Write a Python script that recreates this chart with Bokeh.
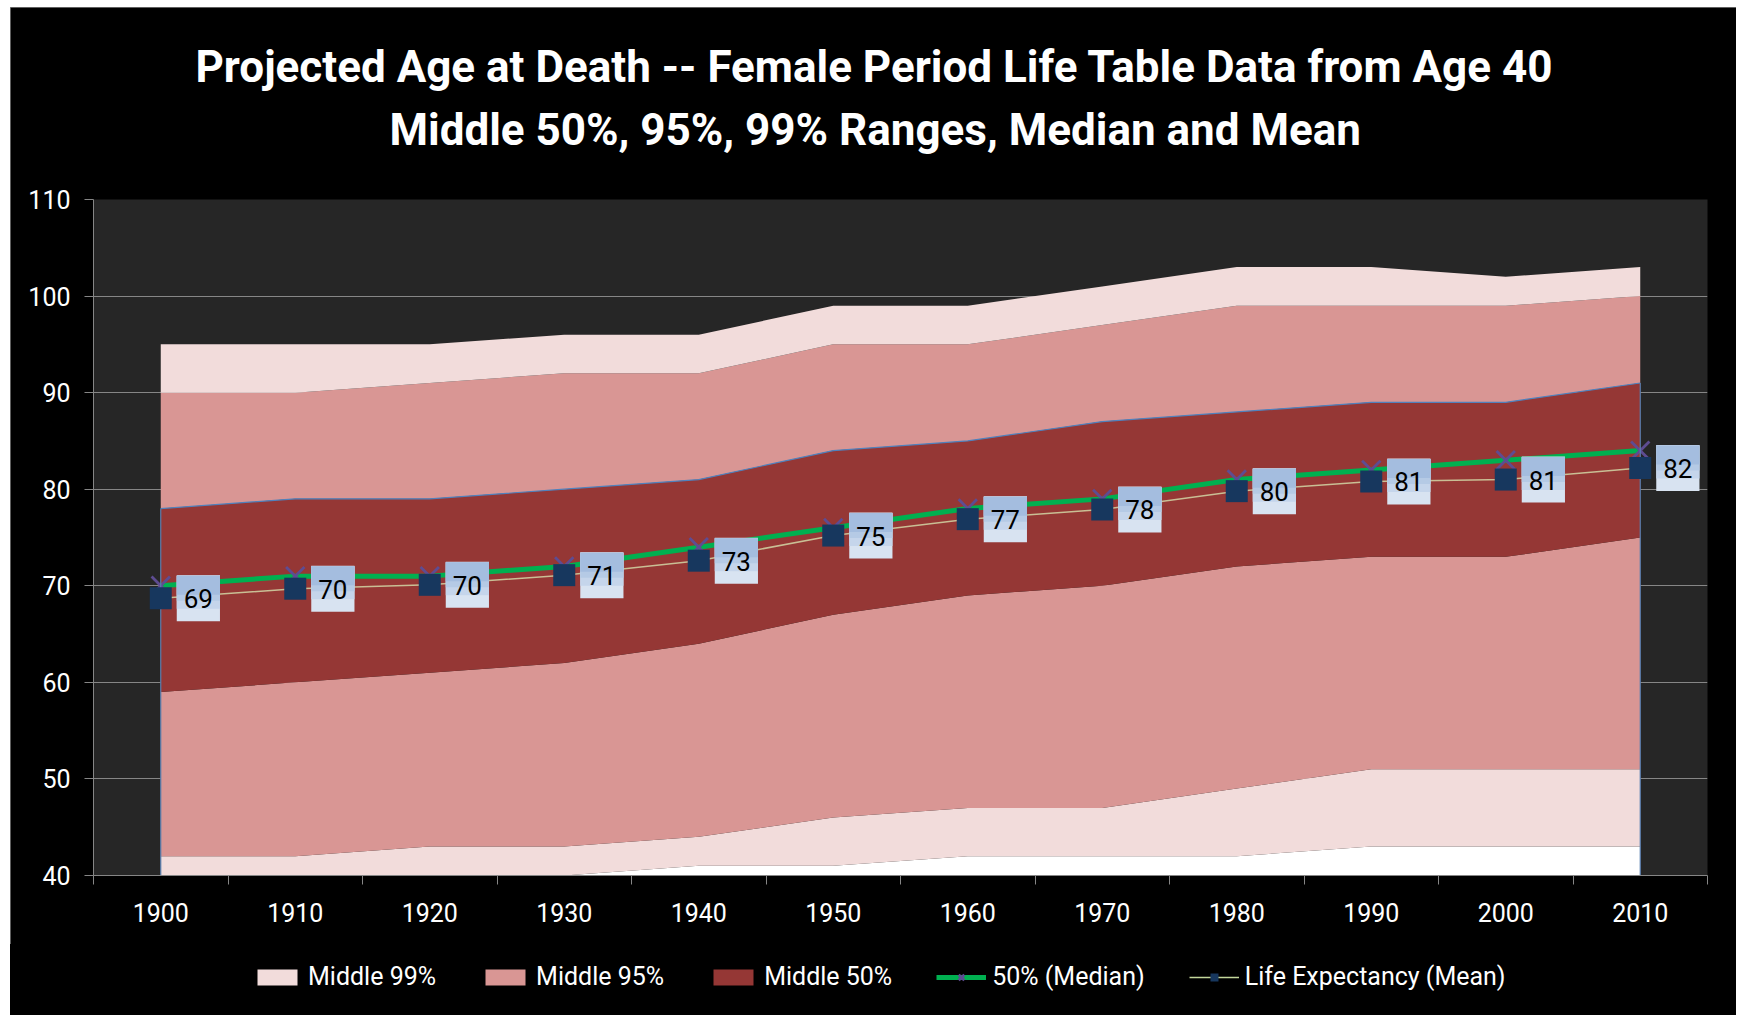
from bokeh.plotting import figure
from bokeh.layouts import column
from bokeh.models import Range1d, LinearAxis, FixedTicker, Title, Legend, LegendItem, ColumnDataSource
from bokeh.core.properties import value
from bokeh.embed import file_html
from bokeh.resources import INLINE

# ---- data ----
years = [1900, 1910, 1920, 1930, 1940, 1950, 1960, 1970, 1980, 1990, 2000, 2010]
pct_0_5 = [39, 39, 39, 40, 41, 41, 42, 42, 42, 43, 43, 43]
pct_2_5 = [42, 42, 43, 43, 44, 46, 47, 47, 49, 51, 51, 51]
pct_25 = [59, 60, 61, 62, 64, 67, 69, 70, 72, 73, 73, 75]
pct_75 = [78, 79, 79, 80, 81, 84, 85, 87, 88, 89, 89, 91]
pct_97_5 = [90, 90, 91, 92, 92, 95, 95, 97, 99, 99, 99, 100]
pct_99_5 = [95, 95, 95, 96, 96, 99, 99, 101, 103, 103, 102, 103]
median = [70, 71, 71, 72, 74, 76, 78, 79, 81, 82, 83, 84]
mean = [68.7, 69.7, 70.1, 71.1, 72.6, 75.2, 76.9, 77.9, 79.8, 80.8, 81.0, 82.2]
mean_labels = [f"{m:.0f}" for m in mean]
y_ticks = [40, 50, 60, 70, 80, 90, 100, 110]
title_lines = ["Projected Age at Death -- Female Period Life Table Data from Age 40",
               "Middle 50%, 95%, 99% Ranges, Median and Mean"]
legend_labels = ["Middle 99%", "Middle 95%", "Middle 50%", "50% (Median)", "Life Expectancy (Mean)"]

FONT = "Roboto"
C99 = "#F2DCDB"
C95 = "#D99694"
C50 = "#953735"
C_MED = "#00B050"
C_X = "#5E4C92"
C_MEAN_LINE = "#C9BF95"
C_MEAN_LEG = "#C3D69B"
C_SQ = "#17375E"

step = years[1] - years[0]
bounds = [y - step / 2 for y in years] + [years[-1] + step / 2]

src = ColumnDataSource(dict(x=years, p005=pct_0_5, p025=pct_2_5, p25=pct_25, p75=pct_75,
                            p975=pct_97_5, p995=pct_99_5, med=median, mean=mean,
                            lab=mean_labels, base=[0] * len(years)))

W = 1726
p = figure(width=W, height=937, output_backend="svg", toolbar_location=None,
           x_range=Range1d(bounds[0], bounds[-1]), y_range=Range1d(y_ticks[0], y_ticks[-1]),
           x_axis_location=None, y_axis_location=None, title=None,
           min_border_left=83, min_border_right=29, min_border_top=192, min_border_bottom=69)
p.background_fill_color = "#262626"
p.border_fill_color = "black"
p.outline_line_color = None

# axes
yax = LinearAxis(ticker=FixedTicker(ticks=y_ticks))
yax.axis_line_color = "#868686"
yax.major_tick_line_color = "#868686"
yax.major_tick_out = 9
yax.major_tick_in = 0
yax.minor_tick_line_color = None
yax.major_label_text_color = "white"
yax.major_label_text_font = FONT
yax.major_label_text_font_size = "25px"
yax.major_label_standoff = 14
p.add_layout(yax, "left")

xax = LinearAxis(ticker=FixedTicker(ticks=years, minor_ticks=bounds))
xax.axis_line_color = "#868686"
xax.major_tick_line_color = None
xax.major_tick_out = 9
xax.minor_tick_line_color = "#868686"
xax.minor_tick_out = 9
xax.minor_tick_in = 0
xax.major_label_text_color = "white"
xax.major_label_text_font = FONT
xax.major_label_text_font_size = "25px"
xax.major_label_standoff = 18
p.add_layout(xax, "below")

p.xgrid.visible = False
p.ygrid.ticker = FixedTicker(ticks=y_ticks)
p.ygrid.grid_line_color = "#868686"
p.ygrid.grid_line_width = 1


def draw_series(fig):
    """Draw the stacked bands and the median series on a figure; return legend renderers."""
    fig.varea(x="x", y1="base", y2="p005", source=src, fill_color="white")
    fig.varea(x="x", y1="p005", y2="p025", source=src, fill_color=C99)
    fig.varea(x="x", y1="p025", y2="p25", source=src, fill_color=C95)
    r50 = fig.varea(x="x", y1="p25", y2="p75", source=src, fill_color=C50)
    r95 = fig.varea(x="x", y1="p75", y2="p975", source=src, fill_color=C95)
    r99 = fig.varea(x="x", y1="p975", y2="p995", source=src, fill_color=C99)
    fig.line(x="x", y="p75", source=src, line_color="#4F81BD", line_width=1.2)
    rml = fig.line(x="x", y="med", source=src, line_color=C_MED, line_width=5)
    rmx = fig.scatter(x="x", y="med", source=src, marker="x", size=26, line_color=C_X, line_width=2.8)
    return r99, r95, r50, rml, rmx


draw_series(p)
p.segment(x0=[years[0], years[-1]], y0=[0, 0], x1=[years[0], years[-1]],
          y1=[pct_75[0], pct_75[-1]], line_color="#5A7FB0", line_width=1.2)
p.line(x="x", y="mean", source=src, line_color=C_MEAN_LINE, line_width=1.5)
p.scatter(x="x", y="mean", source=src, marker="square", size=22, fill_color=C_SQ, line_color=None)

# data labels: boxes with a light blue vertical gradient (stacked backgrounds), then text
lab_common = dict(x="x", y="mean", text="lab", source=src, x_offset=16, text_align="left",
                  text_baseline="middle", text_font=value(FONT), text_font_size="26px")
full_pad = dict(left=7, right=7, top=14, bottom=13)
p.text(**lab_common, text_alpha=0, background_fill_color="#D8E3F1", padding=full_pad)
p.text(**lab_common, y_offset=-6, text_alpha=0, background_fill_color="#C5D5EB",
       padding=dict(left=7, right=7, top=7, bottom=7))
p.text(**lab_common, y_offset=-10, text_alpha=0, background_fill_color="#B5CAE5",
       padding=dict(left=7, right=7, top=3, bottom=3))
p.text(**lab_common, y_offset=-13, text_alpha=0, background_fill_color="#A4BDDF",
       padding=dict(left=7, right=7, top=0, bottom=0))
p.text(**lab_common, text_color="black", padding=full_pad)

# title (line 2 first: closest to the frame)
p.add_layout(Title(text=title_lines[1], align="left", offset=296, standoff=88,
                   text_color="white", text_font=FONT, text_font_style="bold",
                   text_font_size="44px"), "above")
p.add_layout(Title(text=title_lines[0], align="left", offset=102, standoff=-70,
                   text_color="white", text_font=FONT, text_font_style="bold",
                   text_font_size="44px"), "above")

# ---- legend strip below the chart (its series lie outside this strip's ranges) ----
p2 = figure(width=W, height=71, output_backend="svg", toolbar_location=None,
            x_axis_location=None, y_axis_location=None, title=None, min_border=0,
            x_range=Range1d(0, 1), y_range=Range1d(0, 1))
p2.background_fill_color = "black"
p2.border_fill_color = "black"
p2.outline_line_color = None
p2.grid.visible = False
p2.grid.grid_line_color = None
p2.styles = {"background-color": "black"}
g99, g95, g50, gml, gmx = draw_series(p2)
gnl = p2.line(x="x", y="mean", source=src, line_color=C_MEAN_LEG, line_width=1.5)
gns = p2.scatter(x="x", y="mean", source=src, marker="square", size=22, fill_color=C_SQ, line_color=None)

legend = Legend(items=[
    LegendItem(label=legend_labels[0], renderers=[g99]),
    LegendItem(label=legend_labels[1], renderers=[g95]),
    LegendItem(label=legend_labels[2], renderers=[g50]),
    LegendItem(label=legend_labels[3], renderers=[gml, gmx]),
    LegendItem(label=legend_labels[4], renderers=[gnl, gns]),
], orientation="horizontal", location=(159, 24))
legend.background_fill_alpha = 0
legend.border_line_color = None
legend.padding = 0
legend.margin = 0
legend.spacing = 44
legend.glyph_width = 50
legend.glyph_height = 20
legend.label_standoff = 6
legend.label_text_color = "white"
legend.label_text_font = FONT
legend.label_text_font_size = "25px"
p2.add_layout(legend)

root = column(p, p2, spacing=0)
root.styles = {"margin-left": "10px", "margin-top": "7px", "background-color": "black",
               "outline": "1px solid #7f7f7f", "outline-offset": "-1px"}

open("out.html", "w").write(file_html(root, INLINE))
